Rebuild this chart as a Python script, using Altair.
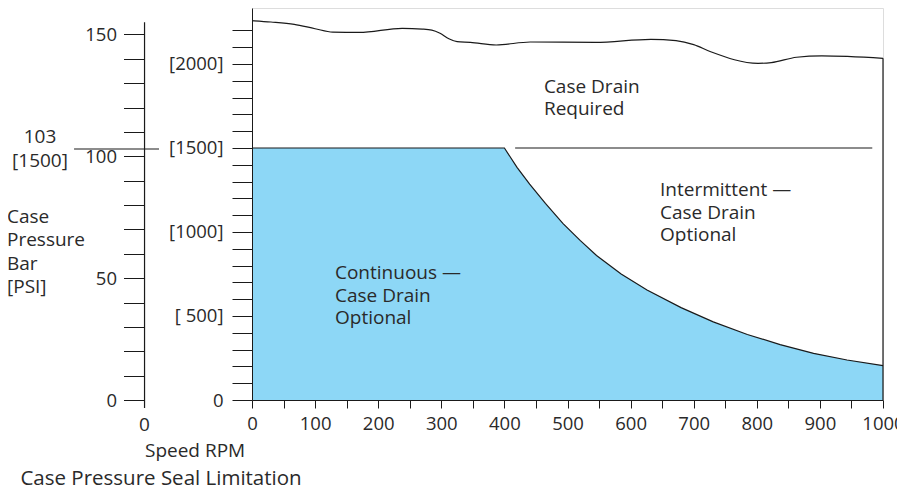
import altair as alt
import pandas as pd

# ---- data ----
rpm_ticks = list(range(0, 1001, 50))
psi_ticks = list(range(0, 2201, 100))
bar_ticks = list(range(0, 151, 10))

# boundary of the "continuous" region (blue)
limit_rpm = [0, 400, 420, 440, 465, 493, 520, 546, 585, 626, 680, 731, 785, 837, 890, 943, 1000]
limit_psi = [1500, 1500, 1385, 1285, 1170, 1050, 950, 860, 750, 655, 550, 465, 390, 330, 278, 238, 205]

# boundary above which a case drain is required
top_rpm = [0, 30, 67, 100, 128, 170, 238, 270, 285, 298, 312, 325, 346, 387, 441, 544, 632, 672, 700, 727, 802, 823, 863, 903, 1000]
top_psi = [2258, 2250, 2236, 2210, 2190, 2188, 2212, 2208, 2202, 2183, 2150, 2133, 2129, 2113, 2131, 2129, 2147, 2139, 2115, 2073, 2004, 2008, 2040, 2048, 2034]

# intermittent threshold segment at 1500 psi
thresh_rpm = [417, 983]
thresh_psi = [1500, 1500]

PSI_PER_BAR = 14.5038
PSI_MAX = 2333.3

# annotation texts and anchors (data units: rpm, psi)
ann_text = ["Case Drain\nRequired", "Intermittent \u2014\nCase Drain\nOptional",
            "Continuous \u2014\nCase Drain\nOptional"]
ann_rpm = [462.6, 646.6, 131.5]
ann_psi = [1829, 1214, 720]

FONT = "Open Sans"
INK = "#2a2a2a"
LINE = "#1a1a1a"
BLUE = "#8DD7F6"

xs = alt.Scale(domain=[0, 1000], nice=False, zero=False)
ys = alt.Scale(domain=[0, PSI_MAX], nice=False, zero=False)

x_axis = alt.Axis(values=rpm_ticks, title=None, grid=False, tickSize=8, tickColor=LINE,
                  domainColor=LINE, labelFont=FONT, labelFontSize=18.5, labelColor=INK,
                  labelPadding=6, labelExpr="datum.value % 100 == 0 ? '' + datum.value : ''",
                  labelFlush=False, labelOverlap=False, zindex=1)
y_axis = alt.Axis(values=psi_ticks, title=None, grid=False, tickSize=20, tickColor=LINE,
                  domainColor=LINE, labelFont=FONT, labelFontSize=18.5, labelColor=INK,
                  labelPadding=9, labelOverlap=False, zindex=1,
                  labelExpr="datum.value == 0 ? '0' : (datum.value == 500 ? '[ 500]' : (datum.value % 500 == 0 ? '[' + datum.value + ']' : ''))")


def X(field):
    return alt.X(field, type="quantitative", scale=xs, axis=x_axis)


def Y(field):
    return alt.Y(field, type="quantitative", scale=ys, axis=y_axis)


limit_df = pd.DataFrame({"rpm": limit_rpm, "psi": limit_psi})
top_df = pd.DataFrame({"rpm": top_rpm, "psi": top_psi})
thr_df = pd.DataFrame({"rpm": [thresh_rpm[0]], "rpm2": [thresh_rpm[1]], "psi": [thresh_psi[0]]})

area = alt.Chart(limit_df).mark_area(color=BLUE, opacity=1).encode(
    x=X("rpm"), y=Y("psi"), y2=alt.datum(0))
limit_line = alt.Chart(limit_df).mark_line(color=LINE, strokeWidth=1.2).encode(
    x=X("rpm"), y=Y("psi"))
top_line = alt.Chart(top_df).mark_line(color=LINE, strokeWidth=1.2, interpolate="monotone").encode(
    x=X("rpm"), y=Y("psi"))
thr_line = alt.Chart(thr_df).mark_rule(color=LINE, strokeWidth=1.2).encode(
    x=X("rpm"), x2="rpm2:Q", y=Y("psi"))
right_edge = alt.Chart(top_df.tail(1)).mark_rule(color=LINE, strokeWidth=1.2).encode(
    x=X("rpm"), y=Y("psi"), y2=alt.datum(0))

ann_df = pd.DataFrame({"t": ann_text, "rpm": ann_rpm, "psi": ann_psi})
ann = alt.Chart(ann_df).mark_text(font=FONT, fontSize=19, color=INK, align="left",
                                  baseline="alphabetic", lineBreak="\n", lineHeight=22.5).encode(
    x=X("rpm"), y=Y("psi"), text="t:N")

# --- bar scale (second left axis) ---
bar_df = pd.DataFrame({"bar": [0, 150]})
bar_axis = alt.Axis(values=bar_ticks, title=None, grid=False, orient="left", offset=107.5,
                    domain=False, tickSize=21, tickColor=LINE, labelFont=FONT, labelFontSize=18.5,
                    labelColor=INK, labelPadding=7, labelOverlap=False,
                    labelExpr="datum.value % 50 == 0 ? '' + datum.value : ''")
bar_layer = alt.Chart(bar_df).mark_point(opacity=0).encode(
    y=alt.Y("bar:Q", scale=alt.Scale(domain=[0, PSI_MAX / PSI_PER_BAR], nice=False, zero=False),
            axis=bar_axis))

# outside annotations (data units of the main scales, drawn outside the plot)
bar_axis_x = -170.3
side_df = pd.DataFrame({"rpm": [bar_axis_x], "psi": [-47.6], "psi2": [155 * PSI_PER_BAR]})
bar_axis_line = alt.Chart(side_df).mark_rule(color=LINE, strokeWidth=1.2, clip=False).encode(
    x=X("rpm"), y=Y("psi"), y2="psi2:Q")
lim_df = pd.DataFrame({"rpm": [-282], "rpm2": [-147.3], "psi": [103 * PSI_PER_BAR]})
lim_rule = alt.Chart(lim_df).mark_rule(color=LINE, strokeWidth=1.2, clip=False).encode(
    x=X("rpm"), x2="rpm2:Q", y=Y("psi"))

left_text = ["Case\nPressure\nBar\n[PSI]", "Speed RPM"]
left_rpm = [-388.3, -169.6]
left_psi = [1053.6, -337.5]
left_df = pd.DataFrame({"t": left_text, "rpm": left_rpm, "psi": left_psi})
left_ann = alt.Chart(left_df).mark_text(font=FONT, fontSize=19, color=INK, align="left",
                                        baseline="alphabetic", lineBreak="\n", lineHeight=23.3,
                                        clip=False).encode(
    x=X("rpm"), y=Y("psi"), text="t:N")

title_df = pd.DataFrame({"t": ["Case Pressure Seal Limitation"], "rpm": [-367], "psi": [-506]})
title_ann = alt.Chart(title_df).mark_text(font=FONT, fontSize=20.5, color=INK, align="left",
                                          baseline="alphabetic", clip=False).encode(
    x=X("rpm"), y=Y("psi"), text="t:N")

ctr_text = ["103\n[1500]", "0"]
ctr_rpm = [-336, bar_axis_x]
ctr_psi = [1528, -184.5]
ctr_df = pd.DataFrame({"t": ctr_text, "rpm": ctr_rpm, "psi": ctr_psi})
ctr_ann = alt.Chart(ctr_df).mark_text(font=FONT, fontSize=19, color=INK, align="center",
                                      baseline="alphabetic", lineBreak="\n", lineHeight=23.3,
                                      clip=False).encode(
    x=X("rpm"), y=Y("psi"), text="t:N")

main = alt.layer(area, limit_line, top_line, thr_line, right_edge, ann,
                 bar_axis_line, lim_rule, left_ann, title_ann, ctr_ann)

chart = alt.layer(main, bar_layer).resolve_scale(y="independent").properties(
    width=631, height=392,
    autosize=alt.AutoSizeParams(type="none"),
    padding={"left": 244, "top": 0, "right": 14, "bottom": 90},
).configure_view(stroke=None).configure(background="white")

chart.save("out.html", embed_options={"renderer": "svg", "actions": False})
